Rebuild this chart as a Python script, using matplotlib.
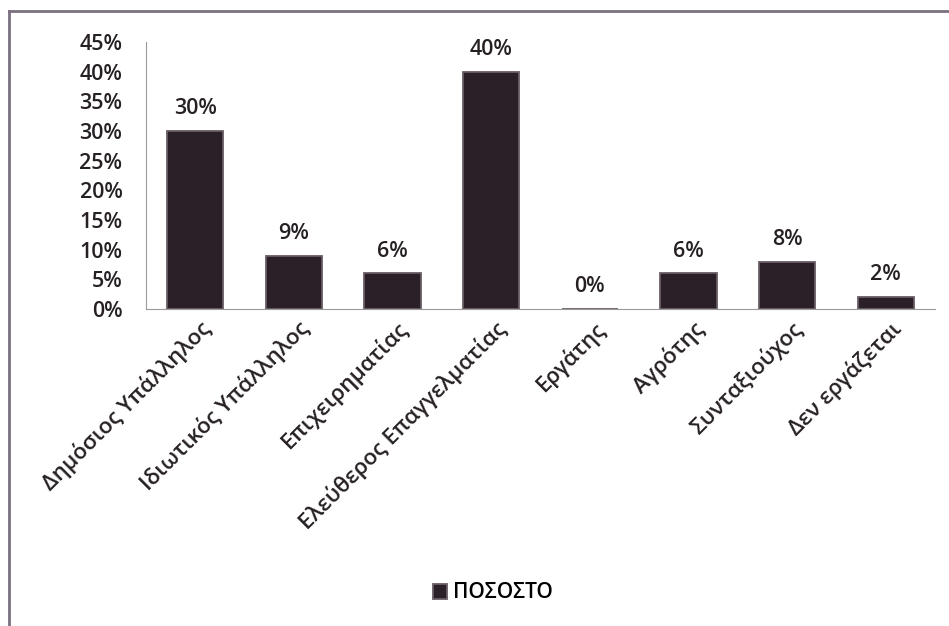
import numpy as np
import matplotlib.pyplot as plt
from matplotlib.lines import Line2D
from matplotlib.ticker import FuncFormatter
from matplotlib.transforms import ScaledTranslation

categories = ["Δημόσιος Υπάλληλος", "Ιδιωτικός Υπάλληλος", "Επιχειρηματίας",
              "Ελεύθερος Επαγγελματίας", "Εργάτης", "Αγρότης", "Συνταξιούχος",
              "Δεν εργάζεται"]
values = [30, 9, 6, 40, 0, 6, 8, 2]
series_name = "ΠΟΣΟΣΤΟ"

plt.rcParams['font.family'] = ['Open Sans', 'DejaVu Sans']
txt_color = "#262024"

fig = plt.figure(figsize=(9.49, 6.26), dpi=100)
ax = fig.add_axes([146 / 949, 1 - 309 / 626, 789 / 949, 267 / 626])

x = np.arange(len(categories))
bars = ax.bar(x, values, width=0.57, color="#2b2028", edgecolor="#6a5d66",
              linewidth=1.3, label=series_name)

for xi, v in zip(x, values):
    ax.text(xi, v + 2.0, f"{v}%", ha="center", va="bottom", fontsize=15.5,
            fontweight="semibold", color=txt_color)

ax.set_xlim(-0.5, len(categories) - 0.5)
ax.set_ylim(0, 45)
ax.set_yticks(range(0, 50, 5))
ax.yaxis.set_major_formatter(FuncFormatter(lambda v, p: f"{int(v)}%"))
ax.tick_params(axis="y", length=0, labelsize=15.5, pad=17, labelcolor=txt_color)
ax.tick_params(axis="x", length=0, labelsize=16, pad=6, labelcolor=txt_color)
ax.set_xticks(x)
ax.set_xticklabels(categories, rotation=45, ha="right", rotation_mode="anchor",
                   fontweight="semibold")
for lbl in ax.get_yticklabels():
    lbl.set_fontweight("semibold")
shift = ScaledTranslation(4 / 100, 0, fig.dpi_scale_trans)
for lbl in ax.get_xticklabels():
    lbl.set_transform(lbl.get_transform() + shift)

for s in ["top", "right"]:
    ax.spines[s].set_visible(False)
ax.spines["left"].set_color("#9a9a9a")
ax.spines["bottom"].set_color("#9a9a9a")

fig.legend(handles=[bars], labels=[series_name], loc="center",
           bbox_to_anchor=(493 / 949, 1 - 593 / 626), frameon=False,
           handlelength=0.7, handleheight=0.7, handletextpad=0.3,
           prop={"weight": "semibold", "size": 15})

# scanned frame: only the left and top edges are visible
fig.add_artist(Line2D([9 / 949, 9 / 949], [0, 1 - 11 / 626],
                      transform=fig.transFigure, color="#7a7080", linewidth=2))
fig.add_artist(Line2D([9 / 949, 1], [1 - 11 / 626, 1 - 11 / 626],
                      transform=fig.transFigure, color="#7a7080", linewidth=2))

fig.savefig("out.png", dpi=100)
